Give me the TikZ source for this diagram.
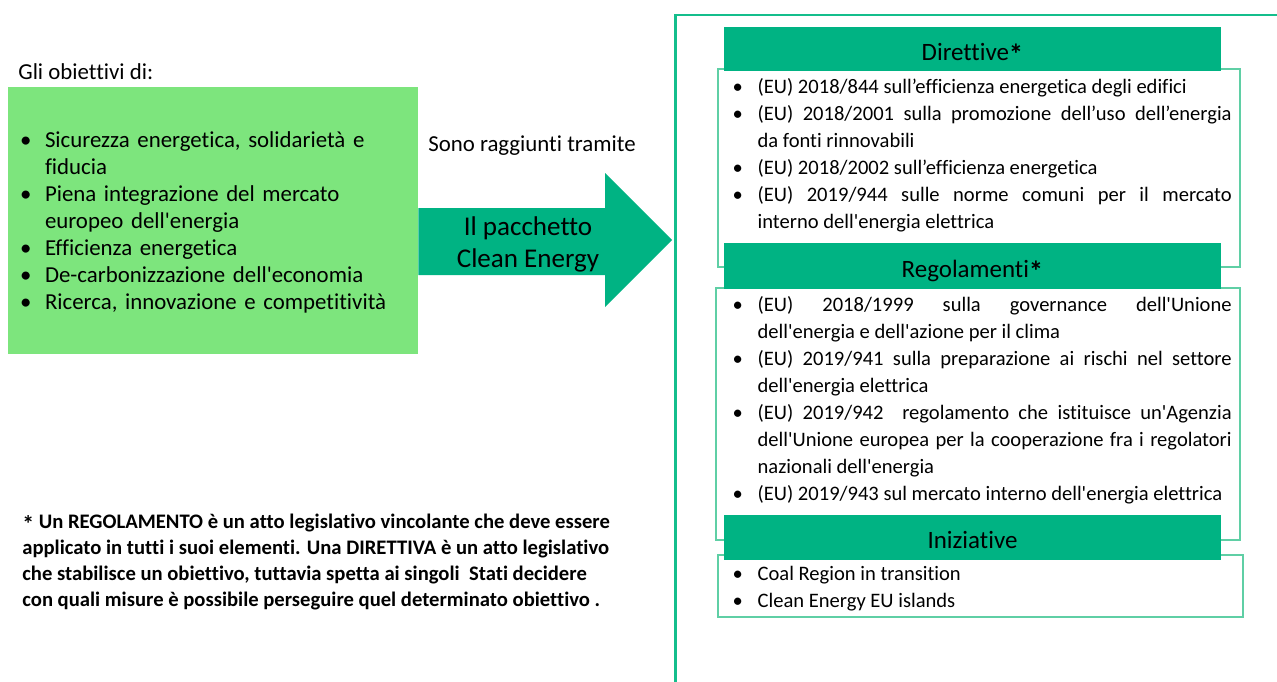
\documentclass[tikz,border=0pt]{standalone}
\usepackage{fontspec}
\setmainfont{Carlito}[Ligatures={TeXOff,NoCommon}]
\usepackage{enumitem}
\usetikzlibrary{calc}
\definecolor{lightgoal}{RGB}{125,229,125}
\definecolor{cleangreen}{RGB}{0,179,131}
\definecolor{framegreen}{RGB}{20,190,140}
\definecolor{linegreen}{RGB}{95,207,165}
\newlist{pointlist}{itemize}{1}
\setlist[pointlist]{label=\textbullet, nosep, leftmargin=0.5cm, labelwidth=0.5cm,
  labelsep=0pt, align=left}
\newcommand{\starmark}{{\bfseries\raisebox{-0.4ex}{\scalebox{1.15}{*}}}}
\tikzstyle{plain}=[inner sep=0pt, font=\fontsize{13}{15.36}\selectfont]
\tikzstyle{goalbox}=[fill=lightgoal, minimum width=8.2cm, minimum height=5.34cm]
\tikzstyle{head}=[fill=cleangreen, text centered, minimum width=9.94cm,
  text height=12.2pt, text depth=0pt, font=\fontsize{14.2}{17}\selectfont]
\tikzstyle{listbox}=[draw=linegreen, line width=0.8pt]
\tikzstyle{listtext}=[anchor=north west, inner sep=0pt, text width=9.98cm,
  align=justify, font=\fontsize{11.7}{15.36}\selectfont]

\begin{document}
\begin{tikzpicture}
  \clip (0,0) rectangle (25.54,-13.62);
  \fill[white] (0,0) rectangle (25.54,-13.62);

  \node(goaltitle)[plain, anchor=west] at (0.36,-1.44) {Gli obiettivi di:};
  \node(goals)[goalbox] at (4.26,-4.41) {};
  \path(goals.north west)+(0.24,-0.68) node(goallist)[plain, anchor=north west,
    text width=7.9cm, align=left]{%
    \begin{pointlist}
      \item Sicurezza energetica, solidarietà e\newline fiducia
      \item Piena integrazione del mercato\newline europeo dell'energia
      \item Efficienza energetica
      \item De-carbonizzazione dell'economia
      \item Ricerca, innovazione e competitività
    \end{pointlist}};

  \node(reached)[plain] at (10.64,-2.92) {Sono raggiunti tramite};
  \fill[cleangreen] (goals.east |- 0,-4.16) -- (12.1,-4.16) -- (12.1,-3.46)
    -- (13.44,-4.8) -- (12.1,-6.14) -- (12.1,-5.5) -- (goals.east |- 0,-5.5) -- cycle;
  \node(package)[align=center, font=\fontsize{15.4}{18.2}\selectfont] at (10.56,-4.88)
    {Il pacchetto\\Clean Energy};

  \draw[framegreen, line width=1.7pt] (13.5,-14) |- (26,-0.3);

  \node(dirbox)[listbox, minimum width=10.44cm, minimum height=3.96cm] at (19.58,-3.36) {};
  \path(dirbox.north)+(-0.13,0.38) node(dirhead)[head, minimum height=0.88cm]{Direttive\starmark};
  \path(dirbox.north west)+(0.3,0.04) node(dirlist)[listtext]{%
    \begin{pointlist}
      \item (EU) 2018/844 sull’efficienza energetica degli edifici
      \item (EU) 2018/2001 sulla promozione dell’uso dell’energia\linebreak da fonti rinnovabili
      \item (EU) 2018/2002 sull’efficienza energetica
      \item (EU) 2019/944 sulle norme comuni per il mercato\linebreak interno dell'energia elettrica
    \end{pointlist}};

  \node(regbox)[listbox, minimum width=10.48cm, minimum height=5.04cm] at (19.56,-8.28) {};
  \path(regbox.north)+(-0.11,0.42) node(reghead)[head, minimum height=0.92cm]{Regolamenti\starmark};
  \path(regbox.north west)+(0.34,0.06) node(reglist)[listtext]{%
    \begin{pointlist}
      \item (EU) 2018/1999 sulla governance dell'Unione\linebreak dell'energia e dell'azione per il clima
      \item (EU) 2019/941 sulla preparazione ai rischi nel settore\linebreak dell'energia elettrica
      \item (EU) 2019/942\ \ regolamento che istituisce un'Agenzia\linebreak dell'Unione europea per la cooperazione fra i regolatori\linebreak nazionali dell'energia
      \item (EU) 2019/943 sul mercato interno dell'energia elettrica
    \end{pointlist}};

  \node(inibox)[listbox, minimum width=10.5cm, minimum height=1.24cm] at (19.61,-11.72) {};
  \path(inibox.north)+(-0.16,0.33) node(inihead)[head, minimum height=0.9cm]{Iniziative};
  \path(inibox.north west)+(0.3,0.02) node(inilist)[listtext]{%
    \begin{pointlist}
      \item Coal Region in transition
      \item Clean Energy EU islands
    \end{pointlist}};

  \node(note)[anchor=north west, inner sep=0pt, align=left,
    font=\bfseries\fontsize{11.75}{14.8}\selectfont] at (0.44,-10.28) {%
    \starmark{} Un REGOLAMENTO è un atto legislativo vincolante che deve essere\\
    applicato in tutti i suoi elementi. Una DIRETTIVA è un atto legislativo\\
    che stabilisce un obiettivo, tuttavia spetta ai singoli\ \ Stati decidere\\
    con quali misure è possibile perseguire quel determinato obiettivo .};
\end{tikzpicture}
\end{document}
